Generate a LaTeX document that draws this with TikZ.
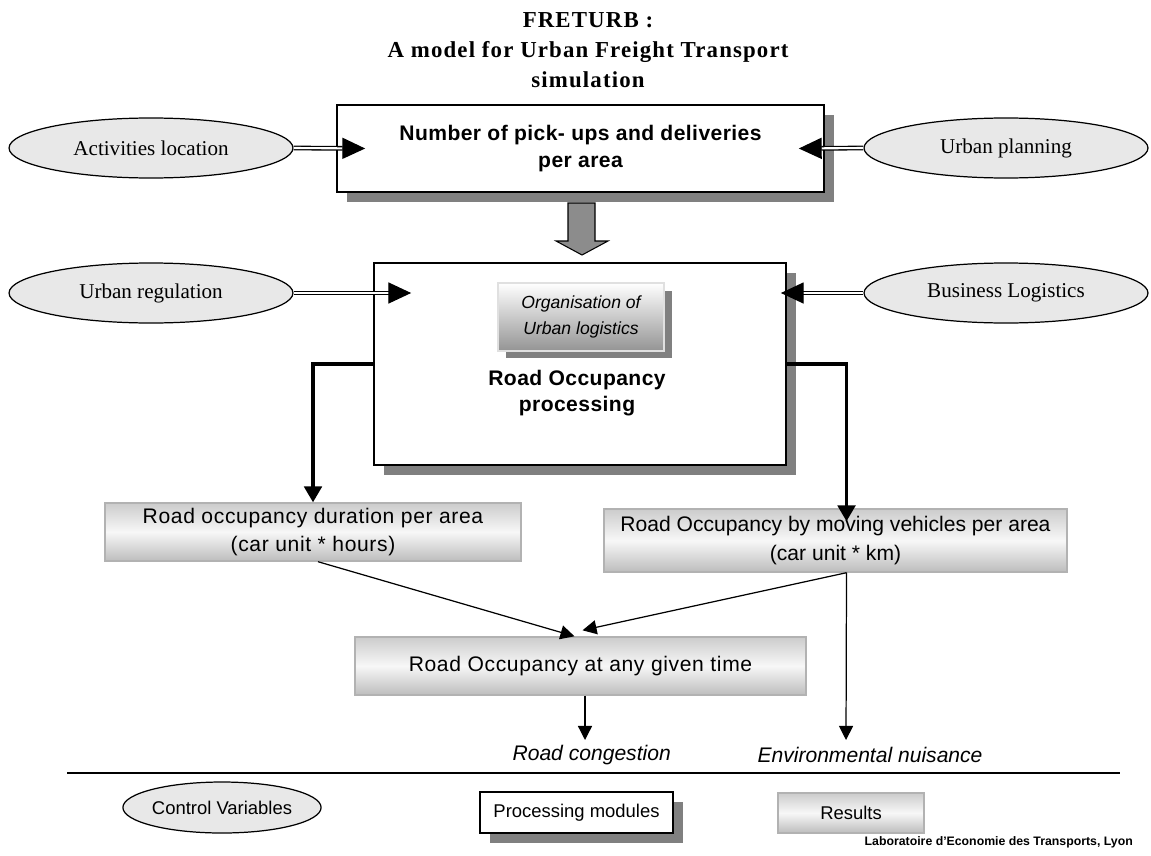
\documentclass[tikz,border=0pt]{standalone}
\usepackage{fontspec}
\setmainfont{Liberation Serif}
\setsansfont{Liberation Sans}
\usetikzlibrary{arrows.meta,shapes.geometric,shadows,calc}
\tikzset{
ctrl/.style={ellipse, draw, line width=0.7pt, fill=black!9, inner sep=0pt, minimum width=5.68cm, minimum height=1.2cm, font=\fontsize{12}{14}\selectfont},
proc/.style={rectangle, draw, line width=1pt, fill=white, inner sep=0pt, align=center, font=\sffamily\bfseries\fontsize{12}{15}\selectfont\addfontfeature{LetterSpace=2}, drop shadow={shadow xshift=0.2cm, shadow yshift=-0.2cm, fill=black!50, opacity=1}},
res/.style={rectangle, draw=black!30, line width=0.8pt, top color=black!20, bottom color=black!26, middle color=black!3, inner sep=0pt, align=center, font=\sffamily\fontsize{12}{16}\selectfont\addfontfeature{LetterSpace=3}},
orgbox/.style={rectangle, draw=black!12, line width=1pt, top color=white, bottom color=black!42, inner sep=0pt, align=center, font=\sffamily\itshape\fontsize{10}{15}\selectfont, drop shadow={shadow xshift=0.16cm, shadow yshift=-0.15cm, fill=black!50, opacity=1}},
feed/.style={double, double distance=1.2pt, line width=0.75pt, -{Triangle[length=13pt,width=12pt]}},
heavy/.style={line width=1.8pt, -{Triangle[length=9pt,width=10pt]}},
lite/.style={line width=0.7pt, -{Triangle[length=8pt,width=8pt]}},
outcome/.style={font=\sffamily\itshape\fontsize{12}{14}\selectfont},
legendtext/.style={font=\sffamily\fontsize{10.5}{12}\selectfont}
}
\begin{document}
\begin{tikzpicture}[x=0.02cm,y=-0.02cm]
\useasboundingbox (0,0) rectangle (1151,855);
\node[font=\bfseries\fontsize{13}{17}\selectfont\addfontfeature{LetterSpace=5}, align=center] (title) at (588,50) {FRETURB :\\A model for Urban Freight Transport\\simulation};
\node[ctrl] (act) at (151,148) {Activities location};
\node[ctrl] (plan) at (1006,148) {Urban planning};
\node[ctrl] (reg) at (151,293) {Urban regulation};
\node[ctrl] (bus) at (1006,293) {Business Logistics};
\node[proc, minimum width=9.74cm, minimum height=1.74cm] (pud) at (580.5,148.5) {Number of pick- ups and deliveries\\per area};
\node[proc, minimum width=8.24cm, minimum height=4.04cm] (occ) at (580,364) {};
\node[orgbox, minimum width=3.32cm, minimum height=1.36cm] (org) at (581,317) {Organisation of\\Urban logistics};
\node[align=center, font=\sffamily\bfseries\fontsize{12}{15}\selectfont\addfontfeature{LetterSpace=2}] (occtxt) at (577,393) {Road Occupancy\\processing};
\node[res, minimum width=8.32cm, minimum height=1.16cm] (rdur) at (313,532) {Road occupancy duration per area\\(car unit * hours)};
\node[res, minimum width=9.26cm, minimum height=1.26cm, font=\sffamily\fontsize{12}{16}\selectfont] (rmov) at (835.5,540.5) {Road Occupancy by moving vehicles per area\\(car unit * km)};
\node[res, minimum width=9.02cm, minimum height=1.16cm] (rany) at (580.5,666) {Road Occupancy at any given time};
\node[outcome, anchor=east] (cong) at (677,755) {Road congestion};
\node[outcome] (env) at (870,755) {Environmental nuisance};
\filldraw[fill=black!45, line width=0.6pt] (568,203) -- (595,203) -- (595,241) -- (608,241) -- (582,255) -- (556,241) -- (568,241) -- cycle;
\coordinate (pudL) at ($(pud.west)+(29,0)$);
\coordinate (pudR) at ($(pud.east)+(-26,0)$);
\coordinate (occL) at ($(occ.west)+(38,-71)$);
\coordinate (occR) at ($(occ.east)+(-6,-71)$);
\coordinate (movin) at ($(rmov.north)+(11,13)$);
\coordinate (movout) at ($(rmov.south)+(11,0)$);
\coordinate (congtip) at (585,740);
\coordinate (envtip) at (846,740);
\draw[feed] (act.east) -- (pudL);
\draw[feed] (plan.west) -- (pudR);
\draw[feed] (reg.east) -- (occL);
\draw[feed] (bus.west) -- (occR);
\draw[heavy] (occ.west) -| (rdur.north);
\draw[heavy] (occ.east) -| (movin);
\draw[lite] ($(rdur.south)+(5,0)$) -- ($(rany.north)+(-6,0)$);
\draw[lite] (movout) -- ($(rany.north)+(2,-6)$);
\draw[lite] (rany.south -| congtip) -- (congtip);
\draw[lite] (movout) -- (envtip);
\draw[line width=0.8pt] (67,773) -- (1120,773);
\node[ctrl, legendtext, minimum width=3.56cm, minimum height=1.02cm] (keyctrl) at (222,807.5) {Control Variables};
\node[proc, legendtext, minimum width=3.86cm, minimum height=0.82cm] (keyproc) at (576.5,812.5) {Processing modules};
\node[res, legendtext, minimum width=2.92cm, minimum height=0.8cm] (keyres) at (851,813) {Results};
\node[anchor=east, font=\sffamily\bfseries\fontsize{7}{8}\selectfont] (lab) at (1139,842) {Laboratoire d'Economie des Transports, Lyon};
\end{tikzpicture}
\end{document}
